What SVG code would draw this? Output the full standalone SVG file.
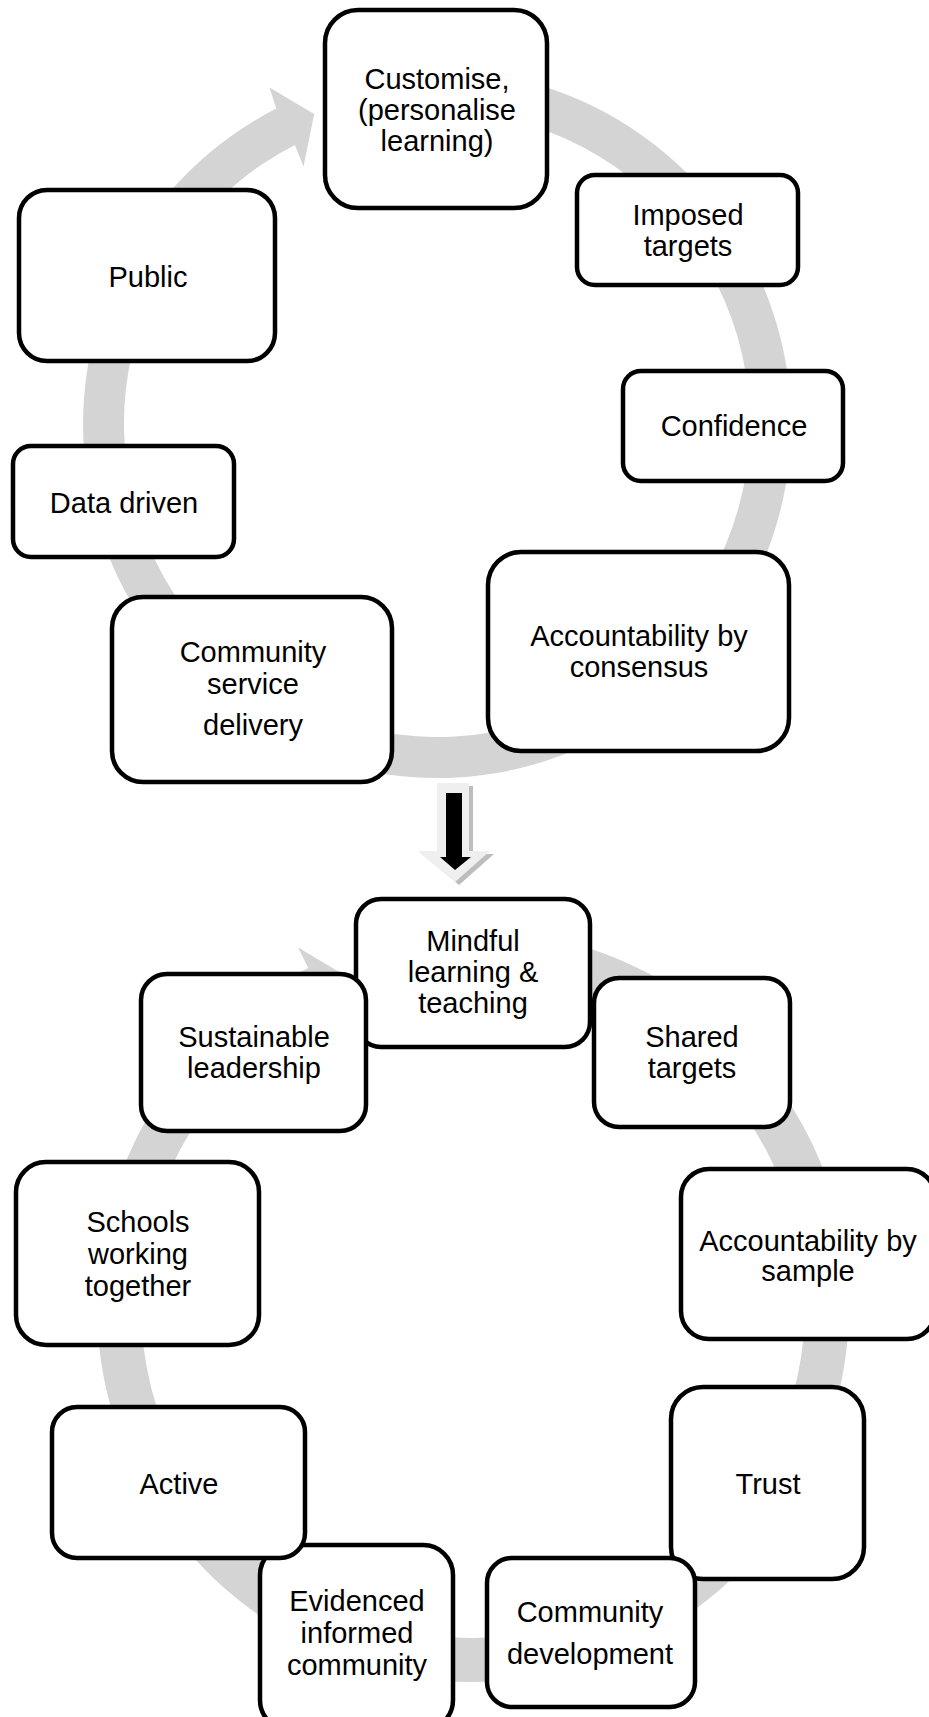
<svg xmlns="http://www.w3.org/2000/svg" width="929" height="1717" viewBox="0 0 929 1717">
  <style>
    .ring { fill: #d4d4d4; stroke: none; }
    .box { fill: #ffffff; stroke: #000000; stroke-width: 4.5; }
    .lbl { font-family: "Liberation Sans", Arial, sans-serif; font-size: 29px; fill: #000000; text-anchor: middle; }
  </style>
  <rect x="0" y="0" width="929" height="1717" fill="#ffffff"/>

  <g id="connectors">
    <!-- upper cycle: clockwise circular arrow -->
    <path class="ring" d="M 387.73 73.44 A 354 354 0 1 1 276.3 108.6 L 269.5 87.5 L 314.2 113.9 L 303.5 166.5 L 294.9 145.1 A 313 313 0 1 0 393.44 114.05 Z"/>
    <!-- transition arrow between the two cycles -->
    <g id="down-arrow">
      <path fill="#bdbdbd" d="M 441 786 L 473 786 L 473 854 L 494 854 L 459 885 L 422 854 L 441 854 Z"/>
      <path fill="#efefef" d="M 437 783 L 469 783 L 469 851 L 490 851 L 455 882 L 418 851 L 437 851 Z"/>
      <path fill="#000000" d="M 446 793 L 462 793 L 462 857 L 471 857 L 455 870 L 440 857 L 446 857 Z"/>
    </g>
    <!-- lower cycle: clockwise circular arrow -->
    <path class="ring" d="M 420.67 933.66 A 376 376 0 1 1 308.17 968.05 L 298.09 947.38 L 346 976 L 337.54 1028.27 L 327.46 1007.6 A 332 332 0 1 0 426.8 977.23 Z"/>
  </g>

  <!-- upper cycle nodes -->
  <g id="customise">
    <rect class="box" x="325" y="10" width="222" height="198" rx="33"/>
    <text class="lbl"><tspan x="437" y="89">Customise,</tspan><tspan x="437" y="120">(personalise</tspan><tspan x="437" y="151">learning)</tspan></text>
  </g>
  <g id="imposed-targets">
    <rect class="box" x="577" y="175" width="221" height="110" rx="18"/>
    <text class="lbl"><tspan x="688" y="225">Imposed</tspan><tspan x="688" y="256">targets</tspan></text>
  </g>
  <g id="confidence">
    <rect class="box" x="623" y="371" width="220" height="110" rx="18"/>
    <text class="lbl" x="734" y="436">Confidence</text>
  </g>
  <g id="accountability-consensus">
    <rect class="box" x="488" y="552" width="301" height="199" rx="33"/>
    <text class="lbl"><tspan x="639" y="646">Accountability by</tspan><tspan x="639" y="677">consensus</tspan></text>
  </g>
  <g id="community-service">
    <rect class="box" x="112" y="597" width="280" height="185" rx="31"/>
    <text class="lbl"><tspan x="253" y="662">Community</tspan><tspan x="253" y="694">service</tspan><tspan x="253" y="735">delivery</tspan></text>
  </g>
  <g id="data-driven">
    <rect class="box" x="13" y="446" width="221" height="111" rx="18"/>
    <text class="lbl" x="124" y="513">Data driven</text>
  </g>
  <g id="public">
    <rect class="box" x="19" y="190" width="256" height="171" rx="28"/>
    <text class="lbl" x="148" y="287">Public</text>
  </g>

  <!-- lower cycle nodes -->
  <g id="mindful">
    <rect class="box" x="356" y="899" width="234" height="148" rx="25"/>
    <text class="lbl"><tspan x="473" y="951">Mindful</tspan><tspan x="473" y="982">learning &amp;</tspan><tspan x="473" y="1013">teaching</tspan></text>
  </g>
  <g id="shared-targets">
    <rect class="box" x="594" y="978" width="196" height="149" rx="25"/>
    <text class="lbl"><tspan x="692" y="1047">Shared</tspan><tspan x="692" y="1078">targets</tspan></text>
  </g>
  <g id="accountability-sample">
    <rect class="box" x="681" y="1169" width="254" height="170" rx="28"/>
    <text class="lbl"><tspan x="808" y="1251">Accountability by</tspan><tspan x="808" y="1281">sample</tspan></text>
  </g>
  <g id="trust">
    <rect class="box" x="671" y="1387" width="193" height="192" rx="32"/>
    <text class="lbl" x="768" y="1494">Trust</text>
  </g>
  <g id="community-development">
    <rect class="box" x="487" y="1558" width="208" height="149" rx="25"/>
    <text class="lbl"><tspan x="590" y="1622">Community</tspan><tspan x="590" y="1664">development</tspan></text>
  </g>
  <g id="evidenced">
    <rect class="box" x="260" y="1545" width="193" height="185" rx="30"/>
    <text class="lbl"><tspan x="357" y="1611">Evidenced</tspan><tspan x="357" y="1643">informed</tspan><tspan x="357" y="1675">community</tspan></text>
  </g>
  <g id="active">
    <rect class="box" x="52" y="1407" width="253" height="151" rx="25"/>
    <text class="lbl" x="179" y="1494">Active</text>
  </g>
  <g id="schools">
    <rect class="box" x="16" y="1162" width="243" height="183" rx="30"/>
    <text class="lbl"><tspan x="138" y="1232">Schools</tspan><tspan x="138" y="1264">working</tspan><tspan x="138" y="1296">together</tspan></text>
  </g>
  <g id="sustainable-leadership">
    <rect class="box" x="141" y="974" width="225" height="157" rx="26"/>
    <text class="lbl"><tspan x="254" y="1047">Sustainable</tspan><tspan x="254" y="1078">leadership</tspan></text>
  </g>
</svg>
